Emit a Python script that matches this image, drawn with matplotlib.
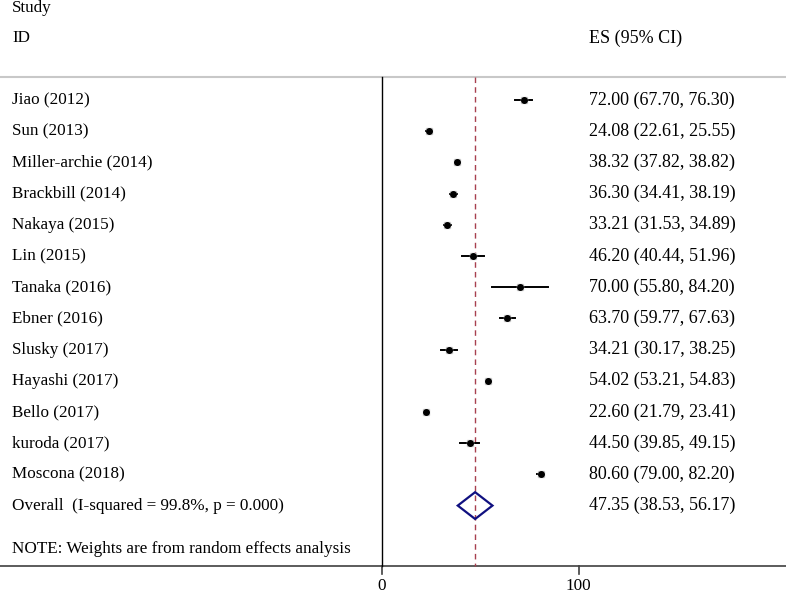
import matplotlib.pyplot as plt
from matplotlib.patches import Polygon

# study data (ES, lower, upper)
studies = ["Jiao (2012)", "Sun (2013)", "Miller-archie (2014)", "Brackbill (2014)",
           "Nakaya (2015)", "Lin (2015)", "Tanaka (2016)", "Ebner (2016)",
           "Slusky (2017)", "Hayashi (2017)", "Bello (2017)", "kuroda (2017)",
           "Moscona (2018)"]
es = [72.00, 24.08, 38.32, 36.30, 33.21, 46.20, 70.00, 63.70, 34.21, 54.02, 22.60, 44.50, 80.60]
lo = [67.70, 22.61, 37.82, 34.41, 31.53, 40.44, 55.80, 59.77, 30.17, 53.21, 21.79, 39.85, 79.00]
hi = [76.30, 25.55, 38.82, 38.19, 34.89, 51.96, 84.20, 67.63, 38.25, 54.83, 23.41, 49.15, 82.20]

overall_label = "Overall  (I-squared = 99.8%, p = 0.000)"
overall = (47.35, 38.53, 56.17)
xticks = [0, 100]

plt.rcParams['font.family'] = ['Liberation Serif', 'DejaVu Serif']
fs = 12.3      # left column
fs_r = 13.0    # right column

fig = plt.figure(figsize=(7.86, 5.97), dpi=100)
ax = fig.add_axes([0, 0, 1, 1])
ax.set_xlim(-194.2, 205.4)
ax.set_ylim(15.93, -3.205)
ax.axis('off')

label_x = -188.0
es_x = 105.0

# header
ax.text(label_x, -2.95, "Study", fontsize=fs, va='center', ha='left')
ax.text(label_x, -1.99, "ID", fontsize=fs, va='center', ha='left')
ax.text(es_x, -1.99, "ES (95% CI)", fontsize=fs_r, va='center', ha='left')
ax.axhline(-0.737, color='#c8c8c8', lw=1.5)

# bottom axis
ax.axhline(14.94, color='#404040', lw=1.2)
for t in xticks:
    ax.plot([t, t], [14.94, 15.2], color='#404040', lw=1.2)
    ax.text(t, 15.58, str(t), fontsize=fs, ha='center', va='center')

# null line and overall line
ax.plot([0, 0], [-0.737, 14.94], color='black', lw=1.0)
ax.plot([overall[0], overall[0]], [-0.737, 14.94], color='#a8404f', lw=1.0,
        dashes=(4, 3))

for i, name in enumerate(studies):
    ax.text(label_x, i, name, fontsize=fs, va='center', ha='left')
    ax.text(es_x, i, "%.2f (%.2f, %.2f)" % (es[i], lo[i], hi[i]),
            fontsize=fs_r, va='center', ha='left')
    ax.plot([lo[i], hi[i]], [i, i], color='black', lw=1.4)
    ax.plot(es[i], i, marker='s', color='#cccccc', markersize=5, zorder=3)
    ax.plot(es[i], i, marker='o', color='black', markersize=4, zorder=4)

# overall diamond
n = len(studies)
m, l, h = overall
ax.add_patch(Polygon([(l, n), (m, n - 0.43), (h, n), (m, n + 0.43)],
                     closed=True, fill=False, edgecolor='#101080', lw=1.6, zorder=5))
ax.text(label_x, n, overall_label, fontsize=fs, va='center', ha='left')
ax.text(es_x, n, "%.2f (%.2f, %.2f)" % overall, fontsize=fs_r, va='center', ha='left')

ax.text(label_x, 14.4, "NOTE: Weights are from random effects analysis",
        fontsize=fs, va='center', ha='left')

fig.savefig("out.png", dpi=100)
